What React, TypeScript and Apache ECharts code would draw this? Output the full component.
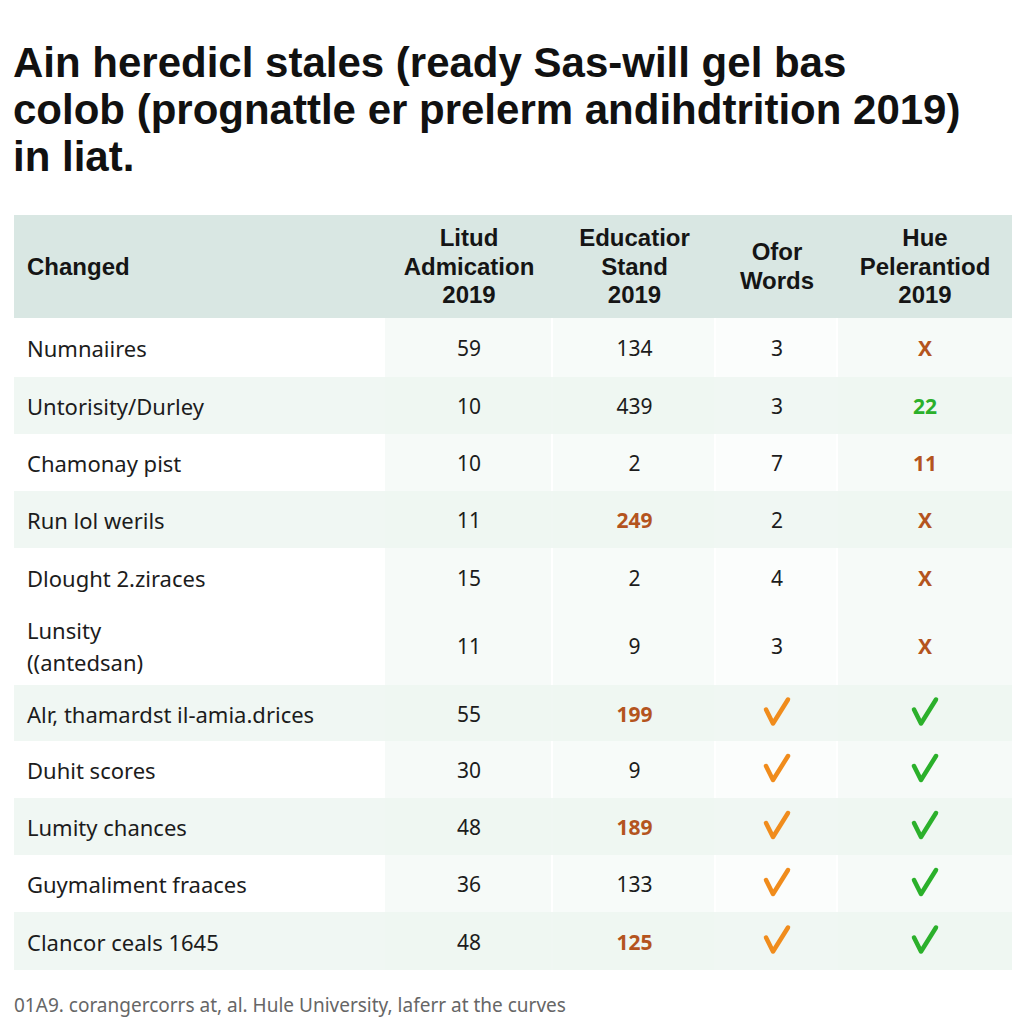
import React, { useEffect, useRef } from "react";
import * as echarts from "echarts";

const titleLines = [
  "Ain heredicl stales (ready Sas-will gel bas",
  "colob (prognattle er prelerm andihdtrition 2019)",
  "in liat.",
];
const headers = [
  ["Changed"],
  ["Litud", "Admication", "2019"],
  ["Educatior", "Stand", "2019"],
  ["Ofor", "Words"],
  ["Hue", "Pelerantiod", "2019"],
];
const rowLabels = [
  ["Numnaiires"],
  ["Untorisity/Durley"],
  ["Chamonay pist"],
  ["Run lol werils"],
  ["Dlought 2.ziraces"],
  ["Lunsity", "((antedsan)"],
  ["Alr, thamardst il-amia.drices"],
  ["Duhit scores"],
  ["Lumity chances"],
  ["Guymaliment fraaces"],
  ["Clancor ceals 1645"],
];
const colAdmication = ["59", "10", "10", "11", "15", "11", "55", "30", "48", "36", "48"];
const colStand = ["134", "439", "2", "249", "2", "9", "199", "9", "189", "133", "125"];
const colWords = ["3", "3", "7", "2", "4", "3", "check", "check", "check", "check", "check"];
const colHue = ["x", "22", "11", "x", "x", "x", "check", "check", "check", "check", "check"];
// highlight kinds: "" normal, "warn" brown-orange, "good" green
const standHighlight = ["", "", "", "warn", "", "", "warn", "", "warn", "", "warn"];
const hueHighlight = ["warn", "good", "warn", "warn", "warn", "warn", "good", "good", "good", "good", "good"];
const wordsHighlight = ["", "", "", "", "", "", "orange", "orange", "orange", "orange", "orange"];
const shadedRows = [1, 3, 6, 8, 10];
const footer = "01A9. corangercorrs at, al. Hule University, laferr at the curves";

const FONT = "'Noto Sans', 'Open Sans', sans-serif";
const HFONT = "'Liberation Sans', Arial, sans-serif";

export default function App() {
  const ref = useRef<HTMLDivElement>(null);
  useEffect(() => {
    if (!ref.current) return;
    const chart = echarts.init(ref.current, null, { renderer: "svg" });

    const colEdges = [14, 385, 553, 716, 838, 1012];
    const rowEdges = [318, 377, 434, 491, 548, 606, 685, 741, 798, 855, 912, 970];
    const headerTop = 215;
    const colors: Record<string, string> = {
      "": "#1c1c1c",
      warn: "#b4541e",
      good: "#2bb02b",
      orange: "#f08c1c",
    };
    const g: any[] = [];

    g.push({
      type: "text",
      x: 13,
      y: 109,
      style: {
        text: titleLines.join("\n"),
        font: `bold 42px ${HFONT}`,
        lineHeight: 47,
        fill: "#111111",
        verticalAlign: "middle",
      },
    });

    const colTint = ["#ffffff", "#f6faf8", "#f7fbf9", "#fbfdfc", "#f6faf8"];
    for (let c = 0; c < 5; c++) {
      g.push({
        type: "rect",
        shape: { x: colEdges[c], y: rowEdges[0], width: colEdges[c + 1] - colEdges[c] - (c < 4 ? 2 : 0), height: rowEdges[11] - rowEdges[0] },
        style: { fill: colTint[c] },
      });
    }
    shadedRows.forEach((r) => {
      g.push({
        type: "rect",
        shape: { x: colEdges[0], y: rowEdges[r], width: colEdges[5] - colEdges[0], height: rowEdges[r + 1] - rowEdges[r] },
        style: { fill: "#edf6f1", opacity: 0.85 },
      });
    });
    g.push({
      type: "rect",
      shape: { x: colEdges[0], y: headerTop, width: colEdges[5] - colEdges[0], height: rowEdges[0] - headerTop },
      style: { fill: "#d9e7e3" },
    });
    headers.forEach((lines, c) => {
      const mid = (headerTop + rowEdges[0]) / 2 - 0.5;
      const cx = c === 0 ? 27 : (colEdges[c] + colEdges[c + 1]) / 2;
      g.push({
        type: "text",
        x: cx,
        y: mid,
        style: {
          text: lines.join("\n"),
          font: `bold 24px ${HFONT}`,
          lineHeight: 28.5,
          fill: "#151515",
          align: c === 0 ? "left" : "center",
          verticalAlign: "middle",
        },
      });
    });

    const drawCheck = (cx: number, cy: number, color: string) => {
      g.push({
        type: "polyline",
        shape: { points: [[cx - 11, cy - 4], [cx - 4, cy + 10], [cx + 11, cy - 14]] },
        style: { stroke: color, lineWidth: 4.5, lineCap: "round", lineJoin: "round", fill: "none" },
      });
    };

    for (let r = 0; r < rowLabels.length; r++) {
      const cy = (rowEdges[r] + rowEdges[r + 1]) / 2 + 0.5;
      g.push({
        type: "text",
        x: 27,
        y: cy,
        style: {
          text: rowLabels[r].join("\n"),
          font: `22px ${FONT}`,
          lineHeight: 32,
          fill: "#1c1c1c",
          verticalAlign: "middle",
        },
      });
      const cells: [string, string, boolean][] = [
        [colAdmication[r], "", false],
        [colStand[r], standHighlight[r], standHighlight[r] !== ""],
        [colWords[r], wordsHighlight[r], false],
        [colHue[r], hueHighlight[r], true],
      ];
      cells.forEach(([v, hl, bold], i) => {
        const c = i + 1;
        const cx = (colEdges[c] + colEdges[c + 1]) / 2;
        const col = colors[hl];
        if (v === "check") {
          drawCheck(cx, cy, col);
        } else {
          g.push({
            type: "text",
            x: cx,
            y: cy,
            style: {
              text: v === "x" ? "X" : v,
              font: `${bold ? "bold " : ""}21px ${FONT}`,
              fill: col,
              align: "center",
              verticalAlign: "middle",
            },
          });
        }
      });
    }

    g.push({
      type: "text",
      x: 14,
      y: 1005,
      style: { text: footer, font: `19px ${FONT}`, fill: "#666666", verticalAlign: "middle" },
    });

    chart.setOption({
      animation: false,
      backgroundColor: "#ffffff",
      graphic: { elements: g },
    });
    return () => chart.dispose();
  }, []);
  return <div ref={ref} style={{ position: "fixed", left: 0, top: 0, width: 1024, height: 1024 }} />;
}
